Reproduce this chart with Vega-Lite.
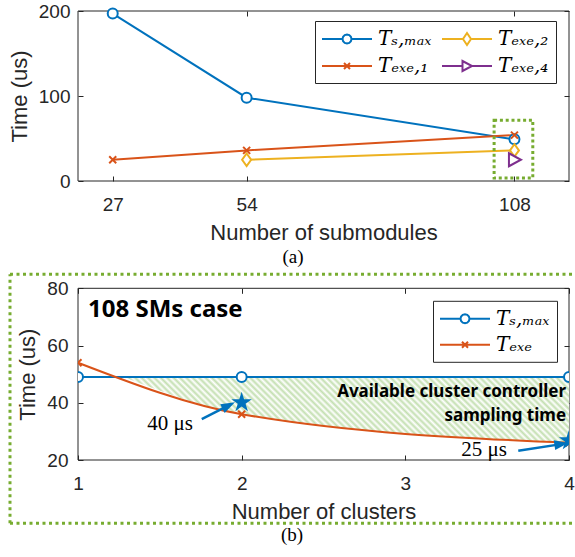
{
  "$schema": "https://vega.github.io/schema/vega-lite/v6.json",
  "padding": {"left": 8, "top": 2, "right": 0, "bottom": 0},
  "background": "white",
  "width": 491,
  "height": 449,
  "datasets": {
    "dtop": [
      {"s": "Tₛ,ₘₐₓ", "x": 27, "y": 197},
      {"s": "Tₛ,ₘₐₓ", "x": 54, "y": 98},
      {"s": "Tₛ,ₘₐₓ", "x": 108, "y": 49},
      {"s": "Tₑₓₑ,₁", "x": 27, "y": 25},
      {"s": "Tₑₓₑ,₁", "x": 54, "y": 36},
      {"s": "Tₑₓₑ,₁", "x": 108, "y": 54},
      {"s": "Tₑₓₑ,₂", "x": 54, "y": 25},
      {"s": "Tₑₓₑ,₂", "x": 108, "y": 36},
      {"s": "Tₑₓₑ,₄", "x": 108, "y": 25}
    ],
    "dbot": [
      {"s": "Tₛ,ₘₐₓ", "x": 1, "y": 49},
      {"s": "Tₛ,ₘₐₓ", "x": 2, "y": 49},
      {"s": "Tₛ,ₘₐₓ", "x": 4, "y": 49},
      {"s": "Tₑₓₑ", "x": 1, "y": 54},
      {"s": "Tₑₓₑ", "x": 2, "y": 36},
      {"s": "Tₑₓₑ", "x": 4, "y": 26}
    ]
  },
  "resolve": {"scale": {"x": "independent", "y": "independent", "stroke": "independent", "shape": "independent"}, "axis": {"x": "independent", "y": "independent"}},
  "layer": [
    {
      "data": {"values": [{"x": 20, "x2": 119, "y": 0, "y2": 200}]},
      "mark": {"type": "rect", "filled": false, "color": "#262626", "strokeWidth": 1},
      "encoding": {
        "x": {"field": "x", "type": "quantitative", "scale": {"domain": [20, 119], "range": [0, 491], "nice": false, "zero": false},
              "axis": {"orient": "bottom", "offset": -279, "values": [27, 54, 108], "ticks": false, "title": "Number of submodules", "labelPadding": 14, "titlePadding": 8}},
        "x2": {"field": "x2"},
        "y": {"field": "y", "type": "quantitative", "scale": {"domain": [0, 200], "range": [170, 0], "nice": false, "zero": false},
              "axis": {"orient": "left", "values": [0, 100, 200], "ticks": false, "title": "Time (us)", "labelPadding": 8, "titlePadding": 7}},
        "y2": {"field": "y2"}
      }
    },
    {
      "data": {"name": "dtop"},
      "mark": {"type": "line", "strokeWidth": 2},
      "encoding": {
        "x": {"field": "x", "type": "quantitative", "scale": {"domain": [20, 119], "range": [0, 491], "nice": false, "zero": false},
              "axis": {"orient": "top", "offset": -170, "values": [27, 54, 108], "labels": false, "title": null}},
        "y": {"field": "y", "type": "quantitative", "scale": {"domain": [0, 200], "range": [170, 0], "nice": false, "zero": false},
              "axis": {"orient": "right", "offset": -491, "values": [0, 100, 200], "labels": false, "title": null}},
        "stroke": {"field": "s", "type": "nominal", "scale": {"domain": ["Tₛ,ₘₐₓ", "Tₑₓₑ,₁", "Tₑₓₑ,₂", "Tₑₓₑ,₄"], "range": ["#0072BD", "#D95319", "#EDB120", "#7E2F8E"]}, "legend": null}
      }
    },
    {
      "data": {"name": "dtop"},
      "mark": {"type": "point", "size": 100, "strokeWidth": 2, "opacity": 1},
      "encoding": {
        "x": {"field": "x", "type": "quantitative", "scale": {"domain": [20, 119], "range": [0, 491], "nice": false, "zero": false},
              "axis": {"orient": "bottom", "offset": -449, "values": [27, 54, 108], "labels": false, "title": null}},
        "y": {"field": "y", "type": "quantitative", "scale": {"domain": [0, 200], "range": [170, 0], "nice": false, "zero": false},
              "axis": {"orient": "left", "offset": -491, "values": [0, 100, 200], "labels": false, "title": null}},
        "fill": {"value": "white"},
        "stroke": {"field": "s", "type": "nominal", "scale": {"domain": ["Tₛ,ₘₐₓ", "Tₑₓₑ,₁", "Tₑₓₑ,₂", "Tₑₓₑ,₄"], "range": ["#0072BD", "#D95319", "#EDB120", "#7E2F8E"]}, "legend": null},
        "shape": {"field": "s", "type": "nominal", "scale": {"domain": ["Tₛ,ₘₐₓ", "Tₑₓₑ,₁", "Tₑₓₑ,₂", "Tₑₓₑ,₄"], "range": ["circle", "M-0.7,-0.7L0.7,0.7M-0.7,0.7L0.7,-0.7", "M0,-1.25L0.9,0L0,1.25L-0.9,0Z", "M-1.1,-1.3L1.3,0L-1.1,1.3Z"]}, "legend": null}
      }
    },
    {
      "data": {"name": "dtop"},
      "mark": {"type": "point", "strokeWidth": 2, "opacity": 0},
      "encoding": {
        "x": {"field": "x", "type": "quantitative", "scale": {"domain": [20, 119], "range": [0, 491], "nice": false, "zero": false}, "axis": null},
        "y": {"field": "y", "type": "quantitative", "scale": {"domain": [0, 200], "range": [170, 0], "nice": false, "zero": false}, "axis": null},
        "fill": {"value": "white"},
        "stroke": {"field": "s", "type": "nominal", "scale": {"domain": ["Tₛ,ₘₐₓ", "Tₑₓₑ,₁", "Tₑₓₑ,₂", "Tₑₓₑ,₄"], "range": ["#0072BD", "#D95319", "#EDB120", "#7E2F8E"]},
                   "legend": {"orient": "none", "legendX": 237, "legendY": 10, "title": null, "columns": 2, "columnPadding": 6, "rowPadding": 6, "symbolOpacity": 1, "symbolFillColor": "white"}},
        "shape": {"field": "s", "type": "nominal", "scale": {"domain": ["Tₛ,ₘₐₓ", "Tₑₓₑ,₁", "Tₑₓₑ,₂", "Tₑₓₑ,₄"], "range": ["M-2.5,0H-0.45M0.45,0H2.5M0.45,0L0.39,0.225L0.225,0.39L0,0.45L-0.225,0.39L-0.39,0.225L-0.45,0L-0.39,-0.225L-0.225,-0.39L0,-0.45L0.225,-0.39L0.39,-0.225Z", "M-2.5,0H2.5M-0.3,-0.3L0.3,0.3M-0.3,0.3L0.3,-0.3", "M-2.5,0H-0.4M0.4,0H2.5M0,-0.6L0.4,0L0,0.6L-0.4,0Z", "M-2.5,0H-0.45M0.5,0H2.5M-0.45,-0.5L0.5,0L-0.45,0.5Z"]},
                  "legend": {"orient": "none", "legendX": 237, "legendY": 10, "title": null, "columns": 2, "columnPadding": 6, "rowPadding": 6, "symbolOpacity": 1, "symbolFillColor": "white"}}
      }
    },
    {
      "data": {"values": [{"x": 103.9, "x2": 111.7, "y": 3.5, "y2": 71.6}]},
      "mark": {"type": "rect", "filled": false, "color": "#77AC30", "strokeWidth": 3, "strokeDash": [3, 2.8]},
      "encoding": {
        "x": {"field": "x", "type": "quantitative", "scale": {"domain": [20, 119], "range": [0, 491], "nice": false, "zero": false}, "axis": null},
        "x2": {"field": "x2"},
        "y": {"field": "y", "type": "quantitative", "scale": {"domain": [0, 200], "range": [170, 0], "nice": false, "zero": false}, "axis": null},
        "y2": {"field": "y2"}
      }
    },
    {
      "data": {"values": [{"x": 63.35, "y": -89.8, "t": "(a)"}]},
      "mark": {"type": "text", "align": "center", "baseline": "middle", "font": "Liberation Serif", "fontSize": 19, "color": "black"},
      "encoding": {
        "x": {"field": "x", "type": "quantitative", "scale": {"domain": [20, 119], "range": [0, 491], "nice": false, "zero": false}, "axis": null},
        "y": {"field": "y", "type": "quantitative", "scale": {"domain": [0, 200], "range": [170, 0], "nice": false, "zero": false}, "axis": null},
        "text": {"field": "t"}
      }
    },
    {
      "data": {"values": [{"x": 1, "x2": 4, "y": 20, "y2": 80}]},
      "mark": {"type": "rect", "filled": false, "color": "#262626", "strokeWidth": 1},
      "encoding": {
        "x": {"field": "x", "type": "quantitative", "scale": {"domain": [1, 4], "range": [0, 491], "nice": false, "zero": false},
              "axis": {"orient": "bottom", "values": [1, 2, 3, 4], "ticks": false, "title": "Number of clusters", "labelPadding": 14, "titlePadding": 8}},
        "x2": {"field": "x2"},
        "y": {"field": "y", "type": "quantitative", "scale": {"domain": [20, 80], "range": [449, 277.3], "nice": false, "zero": false},
              "axis": {"orient": "left", "values": [20, 40, 60, 80], "ticks": false, "title": "Time (us)", "labelPadding": 10, "titlePadding": 7}},
        "y2": {"field": "y2"}
      }
    },
    {
      "data": {"values": [{"x": 1.28, "y": 49, "y2": 49}, {"x": 2, "y": 36, "y2": 49}, {"x": 4, "y": 26, "y2": 49}]},
      "mark": {"type": "area", "interpolate": "monotone", "color": {"gradient": "linear", "x1": 0, "y1": 1, "x2": 1.1236, "y2": 0.8334, "stops": [
        {"offset": 0, "color": "#c3dfb0"}, {"offset": 0.00625, "color": "#ffffff"}, {"offset": 0.0125, "color": "#c3dfb0"}, {"offset": 0.01875, "color": "#ffffff"}, {"offset": 0.025, "color": "#c3dfb0"}, {"offset": 0.03125, "color": "#ffffff"}, {"offset": 0.0375, "color": "#c3dfb0"}, {"offset": 0.04375, "color": "#ffffff"}, {"offset": 0.05, "color": "#c3dfb0"}, {"offset": 0.05625, "color": "#ffffff"}, {"offset": 0.0625, "color": "#c3dfb0"}, {"offset": 0.06875, "color": "#ffffff"}, {"offset": 0.075, "color": "#c3dfb0"}, {"offset": 0.08125, "color": "#ffffff"}, {"offset": 0.0875, "color": "#c3dfb0"}, {"offset": 0.09375, "color": "#ffffff"},
        {"offset": 0.1, "color": "#c3dfb0"}, {"offset": 0.10625, "color": "#ffffff"}, {"offset": 0.1125, "color": "#c3dfb0"}, {"offset": 0.11875, "color": "#ffffff"}, {"offset": 0.125, "color": "#c3dfb0"}, {"offset": 0.13125, "color": "#ffffff"}, {"offset": 0.1375, "color": "#c3dfb0"}, {"offset": 0.14375, "color": "#ffffff"}, {"offset": 0.15, "color": "#c3dfb0"}, {"offset": 0.15625, "color": "#ffffff"}, {"offset": 0.1625, "color": "#c3dfb0"}, {"offset": 0.16875, "color": "#ffffff"}, {"offset": 0.175, "color": "#c3dfb0"}, {"offset": 0.18125, "color": "#ffffff"}, {"offset": 0.1875, "color": "#c3dfb0"}, {"offset": 0.19375, "color": "#ffffff"},
        {"offset": 0.2, "color": "#c3dfb0"}, {"offset": 0.20625, "color": "#ffffff"}, {"offset": 0.2125, "color": "#c3dfb0"}, {"offset": 0.21875, "color": "#ffffff"}, {"offset": 0.225, "color": "#c3dfb0"}, {"offset": 0.23125, "color": "#ffffff"}, {"offset": 0.2375, "color": "#c3dfb0"}, {"offset": 0.24375, "color": "#ffffff"}, {"offset": 0.25, "color": "#c3dfb0"}, {"offset": 0.25625, "color": "#ffffff"}, {"offset": 0.2625, "color": "#c3dfb0"}, {"offset": 0.26875, "color": "#ffffff"}, {"offset": 0.275, "color": "#c3dfb0"}, {"offset": 0.28125, "color": "#ffffff"}, {"offset": 0.2875, "color": "#c3dfb0"}, {"offset": 0.29375, "color": "#ffffff"},
        {"offset": 0.3, "color": "#c3dfb0"}, {"offset": 0.30625, "color": "#ffffff"}, {"offset": 0.3125, "color": "#c3dfb0"}, {"offset": 0.31875, "color": "#ffffff"}, {"offset": 0.325, "color": "#c3dfb0"}, {"offset": 0.33125, "color": "#ffffff"}, {"offset": 0.3375, "color": "#c3dfb0"}, {"offset": 0.34375, "color": "#ffffff"}, {"offset": 0.35, "color": "#c3dfb0"}, {"offset": 0.35625, "color": "#ffffff"}, {"offset": 0.3625, "color": "#c3dfb0"}, {"offset": 0.36875, "color": "#ffffff"}, {"offset": 0.375, "color": "#c3dfb0"}, {"offset": 0.38125, "color": "#ffffff"}, {"offset": 0.3875, "color": "#c3dfb0"}, {"offset": 0.39375, "color": "#ffffff"},
        {"offset": 0.4, "color": "#c3dfb0"}, {"offset": 0.40625, "color": "#ffffff"}, {"offset": 0.4125, "color": "#c3dfb0"}, {"offset": 0.41875, "color": "#ffffff"}, {"offset": 0.425, "color": "#c3dfb0"}, {"offset": 0.43125, "color": "#ffffff"}, {"offset": 0.4375, "color": "#c3dfb0"}, {"offset": 0.44375, "color": "#ffffff"}, {"offset": 0.45, "color": "#c3dfb0"}, {"offset": 0.45625, "color": "#ffffff"}, {"offset": 0.4625, "color": "#c3dfb0"}, {"offset": 0.46875, "color": "#ffffff"}, {"offset": 0.475, "color": "#c3dfb0"}, {"offset": 0.48125, "color": "#ffffff"}, {"offset": 0.4875, "color": "#c3dfb0"}, {"offset": 0.49375, "color": "#ffffff"},
        {"offset": 0.5, "color": "#c3dfb0"}, {"offset": 0.50625, "color": "#ffffff"}, {"offset": 0.5125, "color": "#c3dfb0"}, {"offset": 0.51875, "color": "#ffffff"}, {"offset": 0.525, "color": "#c3dfb0"}, {"offset": 0.53125, "color": "#ffffff"}, {"offset": 0.5375, "color": "#c3dfb0"}, {"offset": 0.54375, "color": "#ffffff"}, {"offset": 0.55, "color": "#c3dfb0"}, {"offset": 0.55625, "color": "#ffffff"}, {"offset": 0.5625, "color": "#c3dfb0"}, {"offset": 0.56875, "color": "#ffffff"}, {"offset": 0.575, "color": "#c3dfb0"}, {"offset": 0.58125, "color": "#ffffff"}, {"offset": 0.5875, "color": "#c3dfb0"}, {"offset": 0.59375, "color": "#ffffff"},
        {"offset": 0.6, "color": "#c3dfb0"}, {"offset": 0.60625, "color": "#ffffff"}, {"offset": 0.6125, "color": "#c3dfb0"}, {"offset": 0.61875, "color": "#ffffff"}, {"offset": 0.625, "color": "#c3dfb0"}, {"offset": 0.63125, "color": "#ffffff"}, {"offset": 0.6375, "color": "#c3dfb0"}, {"offset": 0.64375, "color": "#ffffff"}, {"offset": 0.65, "color": "#c3dfb0"}, {"offset": 0.65625, "color": "#ffffff"}, {"offset": 0.6625, "color": "#c3dfb0"}, {"offset": 0.66875, "color": "#ffffff"}, {"offset": 0.675, "color": "#c3dfb0"}, {"offset": 0.68125, "color": "#ffffff"}, {"offset": 0.6875, "color": "#c3dfb0"}, {"offset": 0.69375, "color": "#ffffff"},
        {"offset": 0.7, "color": "#c3dfb0"}, {"offset": 0.70625, "color": "#ffffff"}, {"offset": 0.7125, "color": "#c3dfb0"}, {"offset": 0.71875, "color": "#ffffff"}, {"offset": 0.725, "color": "#c3dfb0"}, {"offset": 0.73125, "color": "#ffffff"}, {"offset": 0.7375, "color": "#c3dfb0"}, {"offset": 0.74375, "color": "#ffffff"}, {"offset": 0.75, "color": "#c3dfb0"}, {"offset": 0.75625, "color": "#ffffff"}, {"offset": 0.7625, "color": "#c3dfb0"}, {"offset": 0.76875, "color": "#ffffff"}, {"offset": 0.775, "color": "#c3dfb0"}, {"offset": 0.78125, "color": "#ffffff"}, {"offset": 0.7875, "color": "#c3dfb0"}, {"offset": 0.79375, "color": "#ffffff"},
        {"offset": 0.8, "color": "#c3dfb0"}, {"offset": 0.80625, "color": "#ffffff"}, {"offset": 0.8125, "color": "#c3dfb0"}, {"offset": 0.81875, "color": "#ffffff"}, {"offset": 0.825, "color": "#c3dfb0"}, {"offset": 0.83125, "color": "#ffffff"}, {"offset": 0.8375, "color": "#c3dfb0"}, {"offset": 0.84375, "color": "#ffffff"}, {"offset": 0.85, "color": "#c3dfb0"}, {"offset": 0.85625, "color": "#ffffff"}, {"offset": 0.8625, "color": "#c3dfb0"}, {"offset": 0.86875, "color": "#ffffff"}, {"offset": 0.875, "color": "#c3dfb0"}, {"offset": 0.88125, "color": "#ffffff"}, {"offset": 0.8875, "color": "#c3dfb0"}, {"offset": 0.89375, "color": "#ffffff"},
        {"offset": 0.9, "color": "#c3dfb0"}, {"offset": 0.90625, "color": "#ffffff"}, {"offset": 0.9125, "color": "#c3dfb0"}, {"offset": 0.91875, "color": "#ffffff"}, {"offset": 0.925, "color": "#c3dfb0"}, {"offset": 0.93125, "color": "#ffffff"}, {"offset": 0.9375, "color": "#c3dfb0"}, {"offset": 0.94375, "color": "#ffffff"}, {"offset": 0.95, "color": "#c3dfb0"}, {"offset": 0.95625, "color": "#ffffff"}, {"offset": 0.9625, "color": "#c3dfb0"}, {"offset": 0.96875, "color": "#ffffff"}, {"offset": 0.975, "color": "#c3dfb0"}, {"offset": 0.98125, "color": "#ffffff"}, {"offset": 0.9875, "color": "#c3dfb0"}, {"offset": 0.99375, "color": "#ffffff"},
        {"offset": 1, "color": "#c3dfb0"}
      ]}},
      "encoding": {
        "x": {"field": "x", "type": "quantitative", "scale": {"domain": [1, 4], "range": [0, 491], "nice": false, "zero": false}, "axis": null},
        "y": {"field": "y", "type": "quantitative", "scale": {"domain": [20, 80], "range": [449, 277.3], "nice": false, "zero": false}, "axis": null},
        "y2": {"field": "y2"}
      }
    },
    {
      "data": {"values": [
        {"x": 0.5845, "x2": 4.0305, "y": 84.88, "y2": 84.88},
        {"x": 0.5845, "x2": 4.0305, "y": -2.08, "y2": -2.08},
        {"x": 0.5845, "x2": 0.5845, "y": -2.08, "y2": 84.88}
      ]},
      "mark": {"type": "rule", "color": "#77AC30", "strokeWidth": 3, "strokeDash": [3, 3.5]},
      "encoding": {
        "x": {"field": "x", "type": "quantitative", "scale": {"domain": [1, 4], "range": [0, 491], "nice": false, "zero": false}, "axis": null},
        "x2": {"field": "x2"},
        "y": {"field": "y", "type": "quantitative", "scale": {"domain": [20, 80], "range": [449, 277.3], "nice": false, "zero": false}, "axis": null},
        "y2": {"field": "y2"}
      }
    },
    {
      "data": {"name": "dbot"},
      "mark": {"type": "line", "strokeWidth": 2, "interpolate": "monotone"},
      "encoding": {
        "x": {"field": "x", "type": "quantitative", "scale": {"domain": [1, 4], "range": [0, 491], "nice": false, "zero": false},
              "axis": {"orient": "top", "offset": -449, "values": [1, 2, 3, 4], "labels": false, "title": null}},
        "y": {"field": "y", "type": "quantitative", "scale": {"domain": [20, 80], "range": [449, 277.3], "nice": false, "zero": false},
              "axis": {"orient": "right", "offset": -491, "values": [20, 40, 60, 80], "labels": false, "title": null}},
        "stroke": {"field": "s", "type": "nominal", "scale": {"domain": ["Tₛ,ₘₐₓ", "Tₑₓₑ"], "range": ["#0072BD", "#D95319"]}, "legend": null}
      }
    },
    {
      "data": {"name": "dbot"},
      "mark": {"type": "point", "size": 100, "strokeWidth": 2, "opacity": 1, "clip": true},
      "encoding": {
        "x": {"field": "x", "type": "quantitative", "scale": {"domain": [1, 4], "range": [0, 491], "nice": false, "zero": false},
              "axis": {"orient": "bottom", "offset": -171.7, "values": [1, 2, 3, 4], "labels": false, "title": null}},
        "y": {"field": "y", "type": "quantitative", "scale": {"domain": [20, 80], "range": [449, 277.3], "nice": false, "zero": false},
              "axis": {"orient": "left", "offset": -491, "values": [20, 40, 60, 80], "labels": false, "title": null}},
        "fill": {"value": "white"},
        "stroke": {"field": "s", "type": "nominal", "scale": {"domain": ["Tₛ,ₘₐₓ", "Tₑₓₑ"], "range": ["#0072BD", "#D95319"]}, "legend": null},
        "shape": {"field": "s", "type": "nominal", "scale": {"domain": ["Tₛ,ₘₐₓ", "Tₑₓₑ"], "range": ["circle", "M-0.7,-0.7L0.7,0.7M-0.7,0.7L0.7,-0.7"]}, "legend": null}
      }
    },
    {
      "data": {"name": "dbot"},
      "mark": {"type": "point", "strokeWidth": 2, "opacity": 0},
      "encoding": {
        "x": {"field": "x", "type": "quantitative", "scale": {"domain": [1, 4], "range": [0, 491], "nice": false, "zero": false}, "axis": null},
        "y": {"field": "y", "type": "quantitative", "scale": {"domain": [20, 80], "range": [449, 277.3], "nice": false, "zero": false}, "axis": null},
        "fill": {"value": "white"},
        "stroke": {"field": "s", "type": "nominal", "scale": {"domain": ["Tₛ,ₘₐₓ", "Tₑₓₑ"], "range": ["#0072BD", "#D95319"]},
                   "legend": {"orient": "none", "legendX": 355, "legendY": 289.8, "title": null, "rowPadding": 5, "symbolOpacity": 1, "symbolFillColor": "white"}},
        "shape": {"field": "s", "type": "nominal", "scale": {"domain": ["Tₛ,ₘₐₓ", "Tₑₓₑ"], "range": ["M-2.5,0H-0.45M0.45,0H2.5M0.45,0L0.39,0.225L0.225,0.39L0,0.45L-0.225,0.39L-0.39,0.225L-0.45,0L-0.39,-0.225L-0.225,-0.39L0,-0.45L0.225,-0.39L0.39,-0.225Z", "M-2.5,0H2.5M-0.3,-0.3L0.3,0.3M-0.3,0.3L0.3,-0.3"]},
                  "legend": {"orient": "none", "legendX": 355, "legendY": 289.8, "title": null, "rowPadding": 5, "symbolOpacity": 1, "symbolFillColor": "white"}}
      }
    },
    {
      "data": {"values": [{"x": 2, "y": 40.1}, {"x": 4, "y": 26.8}]},
      "mark": {"type": "point", "shape": "M0,-1L0.2245,-0.309L0.951,-0.309L0.363,0.118L0.588,0.809L0,0.382L-0.588,0.809L-0.363,0.118L-0.951,-0.309L-0.2245,-0.309Z", "filled": true, "color": "#0072BD", "size": 460, "opacity": 1, "clip": true},
      "encoding": {
        "x": {"field": "x", "type": "quantitative", "scale": {"domain": [1, 4], "range": [0, 491], "nice": false, "zero": false}, "axis": null},
        "y": {"field": "y", "type": "quantitative", "scale": {"domain": [20, 80], "range": [449, 277.3], "nice": false, "zero": false}, "axis": null}
      }
    },
    {
      "data": {"values": [{"x": 1.756, "y": 34.3, "x2": 1.9208, "y2": 39.05}, {"x": 3.69, "y": 23.24, "x2": 3.9535, "y2": 25.55}]},
      "mark": {"type": "rule", "color": "#0072BD", "strokeWidth": 2.5},
      "encoding": {
        "x": {"field": "x", "type": "quantitative", "scale": {"domain": [1, 4], "range": [0, 491], "nice": false, "zero": false}, "axis": null},
        "x2": {"field": "x2"},
        "y": {"field": "y", "type": "quantitative", "scale": {"domain": [20, 80], "range": [449, 277.3], "nice": false, "zero": false}, "axis": null},
        "y2": {"field": "y2"}
      }
    },
    {
      "data": {"values": [{"x": 1.9208, "y": 39.05}]},
      "mark": {"type": "point", "shape": "M-1,-0.7L1,0L-1,0.7Z", "filled": true, "color": "#0072BD", "size": 196, "opacity": 1, "angle": 333.4},
      "encoding": {
        "x": {"field": "x", "type": "quantitative", "scale": {"domain": [1, 4], "range": [0, 491], "nice": false, "zero": false}, "axis": null},
        "y": {"field": "y", "type": "quantitative", "scale": {"domain": [20, 80], "range": [449, 277.3], "nice": false, "zero": false}, "axis": null}
      }
    },
    {
      "data": {"values": [{"x": 3.9535, "y": 25.55}]},
      "mark": {"type": "point", "shape": "M-1,-0.7L1,0L-1,0.7Z", "filled": true, "color": "#0072BD", "size": 196, "opacity": 1, "angle": 351.25},
      "encoding": {
        "x": {"field": "x", "type": "quantitative", "scale": {"domain": [1, 4], "range": [0, 491], "nice": false, "zero": false}, "axis": null},
        "y": {"field": "y", "type": "quantitative", "scale": {"domain": [20, 80], "range": [449, 277.3], "nice": false, "zero": false}, "axis": null}
      }
    },
    {
      "data": {"values": [{"x": 1.061, "y": 70, "t": "108 SMs case"}]},
      "mark": {"type": "text", "align": "left", "baseline": "alphabetic", "font": "Noto Sans", "fontSize": 24, "fontWeight": "bold", "color": "black"},
      "encoding": {
        "x": {"field": "x", "type": "quantitative", "scale": {"domain": [1, 4], "range": [0, 491], "nice": false, "zero": false}, "axis": null},
        "y": {"field": "y", "type": "quantitative", "scale": {"domain": [20, 80], "range": [449, 277.3], "nice": false, "zero": false}, "axis": null},
        "text": {"field": "t"}
      }
    },
    {
      "data": {"values": [{"x": 3.982, "y": 42.1, "t": "Available cluster controller"}, {"x": 3.982, "y": 33.7, "t": "sampling time"}]},
      "mark": {"type": "text", "align": "right", "baseline": "alphabetic", "font": "Noto Sans", "fontSize": 17, "fontWeight": "bold", "color": "black"},
      "encoding": {
        "x": {"field": "x", "type": "quantitative", "scale": {"domain": [1, 4], "range": [0, 491], "nice": false, "zero": false}, "axis": null},
        "y": {"field": "y", "type": "quantitative", "scale": {"domain": [20, 80], "range": [449, 277.3], "nice": false, "zero": false}, "axis": null},
        "text": {"field": "t"}
      }
    },
    {
      "data": {"values": [{"x": 1.562, "y": 30.47, "t": "40 μs"}, {"x": 3.481, "y": 21.5, "t": "25 μs"}]},
      "mark": {"type": "text", "align": "center", "baseline": "alphabetic", "font": "Liberation Serif", "fontSize": 21, "color": "black"},
      "encoding": {
        "x": {"field": "x", "type": "quantitative", "scale": {"domain": [1, 4], "range": [0, 491], "nice": false, "zero": false}, "axis": null},
        "y": {"field": "y", "type": "quantitative", "scale": {"domain": [20, 80], "range": [449, 277.3], "nice": false, "zero": false}, "axis": null},
        "text": {"field": "t"}
      }
    },
    {
      "data": {"values": [{"x": 2.3075, "y": -6.2, "t": "(b)"}]},
      "mark": {"type": "text", "align": "center", "baseline": "middle", "font": "Liberation Serif", "fontSize": 19, "color": "black"},
      "encoding": {
        "x": {"field": "x", "type": "quantitative", "scale": {"domain": [1, 4], "range": [0, 491], "nice": false, "zero": false}, "axis": null},
        "y": {"field": "y", "type": "quantitative", "scale": {"domain": [20, 80], "range": [449, 277.3], "nice": false, "zero": false}, "axis": null},
        "text": {"field": "t"}
      }
    }
  ],
  "config": {
    "view": {"stroke": null},
    "axis": {"domain": false, "grid": false, "tickSize": 5, "tickColor": "#262626", "tickWidth": 1,
             "labelFont": "Liberation Sans", "labelFontSize": 19, "labelColor": "#262626", "labelFlush": false, "labelOverlap": false,
             "titleFont": "Liberation Sans", "titleFontSize": 22, "titleFontWeight": "normal", "titleColor": "#262626"},
    "legend": {"labelFont": "DejaVu Serif", "labelFontStyle": "italic", "labelFontSize": 20, "labelColor": "black",
               "strokeColor": "#262626", "fillColor": "white", "padding": 7, "symbolSize": 400, "symbolStrokeWidth": 2,
               "symbolOffset": 14, "labelOffset": 20}
  }
}
